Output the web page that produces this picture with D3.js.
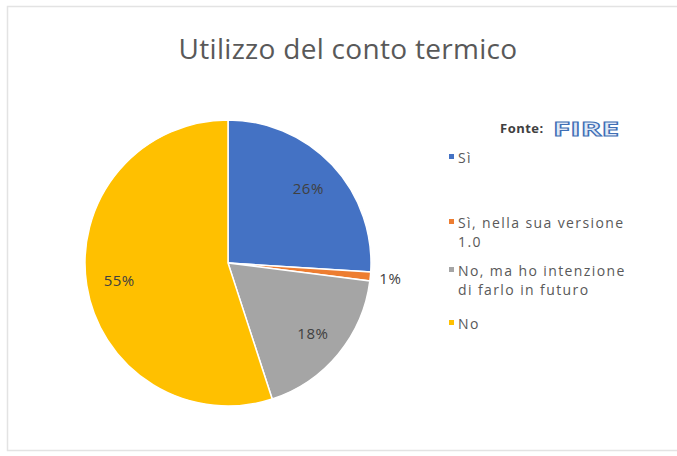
<!DOCTYPE html>
<html>
<head>
<meta charset="utf-8">
<script src="https://cdn.jsdelivr.net/npm/d3@7"></script>
<style>
  body { margin: 0; background: #fff; }
  svg { display: block; font-family: "Open Sans", "Noto Sans", sans-serif; }
</style>
</head>
<body>
<div id="chart"></div>
<script>
// data
const categories = ['Sì', 'Sì, nella sua versione 1.0', 'No, ma ho intenzione di farlo in futuro', 'No'];
const values = [26, 1, 18, 55];
const legendLines = [['Sì'], ['Sì, nella sua versione', '1.0'], ['No, ma ho intenzione', 'di farlo in futuro'], ['No']];
const colors = ['#4472C4', '#ED7D31', '#A5A5A5', '#FFC000'];

const width = 677, height = 456;

const svg = d3.select('#chart')
    .append('svg')
    .attr('width', width)
    .attr('height', height);

// chart frame
svg.append('rect')
    .attr('x', 7.5)
    .attr('y', 6.5)
    .attr('width', 690)
    .attr('height', 444)
    .attr('fill', '#fff')
    .attr('stroke', '#e3e3e3')
    .attr('stroke-width', 1.5);

svg.append('text')
    .attr('x', 348)
    .attr('y', 59)
    .attr('text-anchor', 'middle')
    .attr('fill', '#595959')
    .style('font-size', '28px')
    .style('letter-spacing', '0.3px')
    .text('Utilizzo del conto termico');

// source + logo
svg.append('text')
    .attr('x', 500)
    .attr('y', 133)
    .attr('fill', '#404040')
    .style('font-size', '13px')
    .style('font-weight', 'bold')
    .style('letter-spacing', '0.5px')
    .text('Fonte:');

svg.append('text')
    .attr('x', 553)
    .attr('y', 136)
    .attr('fill', '#dfe8f5')
    .attr('stroke', '#3f6fb5')
    .attr('stroke-width', 1)
    .style('font-size', '19px')
    .style('font-weight', 'bold')
    .attr('textLength', 66)
    .attr('lengthAdjust', 'spacingAndGlyphs')
    .text('FIRE');

// pie
const cx = 228, cy = 263, r = 143;
const g = svg.append('g').attr('transform', `translate(${cx},${cy})`);

const pie = d3.pie().sort(null).value(d => d);
const arcs = pie(values);
const arc = d3.arc().innerRadius(0).outerRadius(r);

g.selectAll('path')
    .data(arcs)
    .join('path')
    .attr('d', arc)
    .attr('fill', (d, i) => colors[i])
    .attr('stroke', '#fff')
    .attr('stroke-width', 1.5);

// labels
const labelArc = d3.arc().innerRadius(r * 0.77).outerRadius(r * 0.77);
const outerArc = d3.arc().innerRadius(r * 1.14).outerRadius(r * 1.14);

g.selectAll('text.lbl')
    .data(arcs)
    .join('text')
    .attr('class', 'lbl')
    .attr('transform', d => {
        const p = d.data < 5 ? outerArc.centroid(d) : labelArc.centroid(d);
        return `translate(${p[0]},${p[1]})`;
    })
    .attr('text-anchor', 'middle')
    .attr('dominant-baseline', 'central')
    .attr('fill', '#404040')
    .style('font-size', '15px')
    .style('letter-spacing', '0.5px')
    .text(d => d.data + '%');

// legend
const legendY = [157, 222, 270, 323];
const legend = svg.append('g').attr('transform', 'translate(449,0)');

legendLines.forEach((lines, i) => {
    legend.append('rect')
        .attr('x', 0)
        .attr('y', legendY[i] - 3)
        .attr('width', 5)
        .attr('height', 5)
        .attr('fill', colors[i]);
    lines.forEach((t, j) => {
        legend.append('text')
            .attr('x', 9)
            .attr('y', legendY[i] + j * 19)
            .attr('dominant-baseline', 'central')
            .attr('fill', '#595959')
            .style('font-size', '14px')
            .style('letter-spacing', '1.4px')
            .text(t);
    });
});
</script>
</body>
</html>
